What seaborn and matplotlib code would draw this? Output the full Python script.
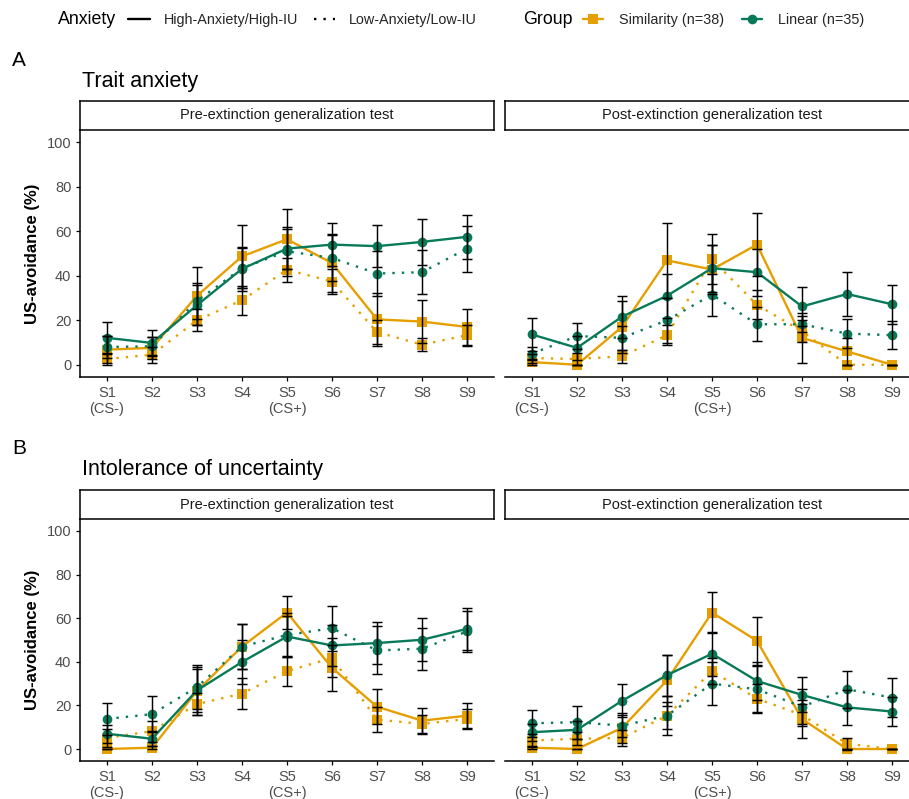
import numpy as np
import pandas as pd
import matplotlib
matplotlib.use("Agg")
import matplotlib.pyplot as plt
import seaborn as sns
from matplotlib.lines import Line2D

# ---------------- data ----------------
stimuli = ["S1\n(CS-)", "S2", "S3", "S4", "S5\n(CS+)", "S6", "S7", "S8", "S9"]
groups = ["Similarity (n=38)", "Linear (n=35)"]
anxiety_levels = ["High-Anxiety/High-IU", "Low-Anxiety/Low-IU"]
phases = ["Pre-extinction generalization test", "Post-extinction generalization test"]
rows = ["Trait anxiety", "Intolerance of uncertainty"]
panel_letters = ["A", "B"]

# Trait anxiety - pre-extinction
ta_pre_sim_hi = [6.8, 7.6, 31.0, 48.7, 56.4, 45.7, 20.4, 19.4, 17.0]
ta_pre_sim_lo = [2.6, 4.5, 20.0, 29.0, 42.7, 37.4, 14.7, 9.0, 13.3]
ta_pre_lin_hi = [12.1, 9.8, 26.8, 43.1, 52.2, 54.0, 53.3, 55.2, 57.5]
ta_pre_lin_lo = [8.0, 8.3, 28.7, 43.4, 51.0, 48.0, 41.0, 41.6, 52.2]
ta_pre_sim_hi_se = [6.0, 5.0, 13.0, 14.0, 13.5, 13.0, 12.0, 9.6, 8.0]
ta_pre_sim_lo_se = [2.6, 3.5, 5.0, 6.5, 5.5, 5.5, 5.5, 3.0, 4.7]
ta_pre_lin_hi_se = [7.3, 6.0, 9.0, 10.0, 9.0, 9.5, 9.5, 10.3, 9.8]
ta_pre_lin_lo_se = [5.0, 4.0, 8.0, 9.0, 11.0, 10.5, 10.0, 10.0, 10.3]

# Trait anxiety - post-extinction
ta_post_sim_hi = [1.2, 0.0, 17.0, 46.9, 42.8, 54.0, 12.1, 6.0, 0.0]
ta_post_sim_lo = [3.0, 2.6, 3.8, 13.3, 47.4, 26.9, 15.1, 0.0, 0.0]
ta_post_lin_hi = [13.6, 7.6, 21.6, 31.0, 43.4, 41.6, 26.2, 31.8, 27.2]
ta_post_lin_lo = [5.0, 12.9, 12.1, 20.0, 31.5, 18.2, 18.2, 14.0, 13.3]
ta_post_sim_hi_se = [1.2, 0.0, 11.7, 17.0, 11.0, 14.0, 11.3, 6.0, 0.0]
ta_post_sim_lo_se = [2.0, 2.6, 3.0, 4.5, 11.3, 6.5, 5.0, 0.0, 0.0]
ta_post_lin_hi_se = [7.6, 5.5, 9.4, 10.0, 10.6, 10.6, 8.6, 9.8, 8.8]
ta_post_lin_lo_se = [3.0, 6.0, 5.5, 10.0, 9.5, 7.6, 3.5, 6.4, 6.2]

# Intolerance of uncertainty - pre-extinction
iu_pre_sim_hi = [0.0, 0.6, 26.6, 47.0, 62.6, 37.2, 19.4, 13.0, 15.3]
iu_pre_sim_lo = [5.1, 8.2, 20.6, 25.4, 35.7, 41.8, 13.5, 11.5, 13.8]
iu_pre_lin_hi = [7.0, 4.7, 26.9, 39.9, 51.6, 47.5, 48.6, 50.1, 55.1]
iu_pre_lin_lo = [13.8, 16.0, 28.4, 47.0, 52.3, 55.4, 45.2, 46.0, 53.9]
iu_pre_sim_hi_se = [0.0, 0.6, 11.0, 10.5, 7.6, 10.6, 8.0, 6.0, 5.6]
iu_pre_sim_lo_se = [4.0, 4.8, 5.0, 7.0, 7.0, 9.0, 5.8, 4.0, 4.6]
iu_pre_lin_hi_se = [4.2, 3.5, 10.0, 10.0, 9.4, 9.4, 9.5, 9.8, 9.7]
iu_pre_lin_lo_se = [7.5, 8.4, 10.0, 10.5, 10.0, 10.3, 11.0, 9.7, 9.5]

# Intolerance of uncertainty - post-extinction
iu_post_sim_hi = [0.6, 0.0, 9.7, 31.5, 62.6, 49.6, 13.8, 0.0, 0.0]
iu_post_sim_lo = [3.9, 4.7, 5.1, 15.3, 35.7, 23.1, 15.6, 2.4, 0.0]
iu_post_lin_hi = [7.7, 8.8, 22.1, 33.9, 43.7, 31.2, 24.8, 19.1, 17.2]
iu_post_lin_lo = [11.8, 12.3, 10.7, 15.3, 30.0, 27.4, 19.4, 27.4, 23.6]
iu_post_sim_hi_se = [0.6, 0.0, 7.0, 11.7, 9.4, 11.0, 8.7, 0.0, 0.0]
iu_post_sim_lo_se = [3.0, 3.0, 3.8, 8.8, 6.0, 6.5, 5.0, 2.7, 0.0]
iu_post_lin_hi_se = [4.0, 4.0, 7.5, 9.4, 10.0, 8.5, 8.0, 7.9, 6.5]
iu_post_lin_lo_se = [6.2, 7.5, 5.0, 6.1, 10.0, 10.5, 8.0, 8.6, 9.0]

series = [
    (rows[0], phases[0], groups[0], anxiety_levels[0], ta_pre_sim_hi, ta_pre_sim_hi_se),
    (rows[0], phases[0], groups[0], anxiety_levels[1], ta_pre_sim_lo, ta_pre_sim_lo_se),
    (rows[0], phases[0], groups[1], anxiety_levels[0], ta_pre_lin_hi, ta_pre_lin_hi_se),
    (rows[0], phases[0], groups[1], anxiety_levels[1], ta_pre_lin_lo, ta_pre_lin_lo_se),
    (rows[0], phases[1], groups[0], anxiety_levels[0], ta_post_sim_hi, ta_post_sim_hi_se),
    (rows[0], phases[1], groups[0], anxiety_levels[1], ta_post_sim_lo, ta_post_sim_lo_se),
    (rows[0], phases[1], groups[1], anxiety_levels[0], ta_post_lin_hi, ta_post_lin_hi_se),
    (rows[0], phases[1], groups[1], anxiety_levels[1], ta_post_lin_lo, ta_post_lin_lo_se),
    (rows[1], phases[0], groups[0], anxiety_levels[0], iu_pre_sim_hi, iu_pre_sim_hi_se),
    (rows[1], phases[0], groups[0], anxiety_levels[1], iu_pre_sim_lo, iu_pre_sim_lo_se),
    (rows[1], phases[0], groups[1], anxiety_levels[0], iu_pre_lin_hi, iu_pre_lin_hi_se),
    (rows[1], phases[0], groups[1], anxiety_levels[1], iu_pre_lin_lo, iu_pre_lin_lo_se),
    (rows[1], phases[1], groups[0], anxiety_levels[0], iu_post_sim_hi, iu_post_sim_hi_se),
    (rows[1], phases[1], groups[0], anxiety_levels[1], iu_post_sim_lo, iu_post_sim_lo_se),
    (rows[1], phases[1], groups[1], anxiety_levels[0], iu_post_lin_hi, iu_post_lin_hi_se),
    (rows[1], phases[1], groups[1], anxiety_levels[1], iu_post_lin_lo, iu_post_lin_lo_se),
]
records = []
for row, phase, grp, anx, vals, ses in series:
    for i, (v, s) in enumerate(zip(vals, ses)):
        records.append(dict(row=row, phase=phase, group=grp, anxiety=anx,
                            pos=i, value=v, se=s))
df = pd.DataFrame(records)

# ---------------- style ----------------
sns.set_theme(style="ticks")
plt.rcParams['font.family'] = ['Liberation Sans', 'DejaVu Sans']

ORANGE = "#E69F00"
GREEN = "#087A58"
colors = [ORANGE, GREEN]
markers = ["s", "o"]
dash_map = {anxiety_levels[0]: "", anxiety_levels[1]: (1, 3)}
TICKGREY = "#4D4D4D"

W, H = 909, 799
fig = plt.figure(figsize=(W / 100, H / 100), dpi=100)


def px_axes(x0, y0, x1, y1):
    return fig.add_axes([x0 / W, 1 - y1 / H, (x1 - x0) / W, (y1 - y0) / H])


col_x = [(80, 494), (505, 919)]
row_geom = [  # (letter y, title y, strip top, strip bottom/axes top, axes bottom)
    (60, 81, 101, 130, 377),
    (448, 469, 490, 519, 761),
]

for r, row in enumerate(rows):
    ly, ty, st, sb, ab = row_geom[r]
    fig.text(12 / W, 1 - ly / H, panel_letters[r], fontsize=15, va="center", ha="left", color="black")
    fig.text(82 / W, 1 - ty / H, row, fontsize=15.5, va="center", ha="left", color="black")
    fig.text(33 / W, 1 - ((sb + ab) / 2) / H, "US-avoidance (%)", rotation=90,
             fontsize=12, fontweight="bold", va="center", ha="center", color="black")
    for c, phase in enumerate(phases):
        x0, x1 = col_x[c]
        ax = px_axes(x0, sb, x1, ab)
        ax.patch.set_visible(False)
        for g, col, mk in zip(groups, colors, markers):
            sub = df[(df.row == row) & (df.phase == phase) & (df.group == g)]
            sns.lineplot(data=sub, x="pos", y="value", style="anxiety",
                         style_order=anxiety_levels, dashes=dash_map,
                         color=col, marker=mk, markersize=7, markeredgewidth=0,
                         linewidth=1.7, estimator=None, errorbar=None, sort=False,
                         legend=False, ax=ax, zorder=2)
        sub = df[(df.row == row) & (df.phase == phase)]
        ax.errorbar(sub.pos, sub.value, yerr=sub.se, fmt="none", ecolor="black",
                    elinewidth=1.05, capsize=3.3, capthick=1.05, zorder=5)

        ax.set_xlim(-0.6, 8.6)
        ax.set_ylim(-5.5, 105.5)
        ax.set_xticks(range(len(stimuli)))
        ax.set_xticklabels(stimuli)
        ax.set_yticks([0, 20, 40, 60, 80, 100])
        ax.set_xlabel(""); ax.set_ylabel("")
        ax.tick_params(axis="both", labelsize=10.5, labelcolor=TICKGREY, color="black",
                       length=3, width=0.9, pad=3.2)
        ax.spines["top"].set_visible(False)
        ax.spines["right"].set_visible(False)
        ax.spines["bottom"].set_color("black"); ax.spines["bottom"].set_linewidth(1.1)
        ax.spines["left"].set_color("black"); ax.spines["left"].set_linewidth(1.1)
        if c == 1:
            ax.spines["left"].set_visible(False)
            ax.tick_params(axis="y", left=False, labelleft=False)

        # strip (drawn on top)
        sax = px_axes(x0, st, x1, sb)
        sax.set_xticks([]); sax.set_yticks([])
        sax.set_facecolor("white")
        for sp in sax.spines.values():
            sp.set_visible(True); sp.set_color("black"); sp.set_linewidth(1.1)
        sax.text(0.5 if c == 0 else 0.5 * (494 - 80) / (x1 - x0), 0.5, phase,
                 transform=sax.transAxes, ha="center", va="center",
                 fontsize=10.5, color="#1A1A1A")

# ---------------- legends ----------------
LEG_Y = 1 - 20 / H
fig.text(58 / W, LEG_Y, "Anxiety", fontsize=12.8, va="center", ha="left", color="black")
anx_handles = [
    Line2D([], [], color="black", linewidth=1.7, linestyle="-"),
    Line2D([], [], color="black", linewidth=1.7, linestyle=(0, (1, 3))),
]
leg1 = fig.legend(anx_handles, anxiety_levels, loc="center left",
                  bbox_to_anchor=(128 / W, LEG_Y), ncol=2, frameon=False,
                  fontsize=10.4, handlelength=1.5, handletextpad=0.95,
                  columnspacing=1.1, borderpad=0, borderaxespad=0)
fig.text(523 / W, LEG_Y, "Group", fontsize=12.8, va="center", ha="left", color="black")
grp_handles = [
    Line2D([], [], color=ORANGE, linewidth=1.7, marker="s", markersize=7, markeredgewidth=0),
    Line2D([], [], color=GREEN, linewidth=1.7, marker="o", markersize=7, markeredgewidth=0),
]
leg2 = fig.legend(grp_handles, groups, loc="center left",
                  bbox_to_anchor=(583 / W, LEG_Y), ncol=2, frameon=False,
                  fontsize=10.4, handlelength=1.4, handletextpad=1.1,
                  columnspacing=1.2, borderpad=0, borderaxespad=0)

fig.savefig("out.png", dpi=100, facecolor="white")
